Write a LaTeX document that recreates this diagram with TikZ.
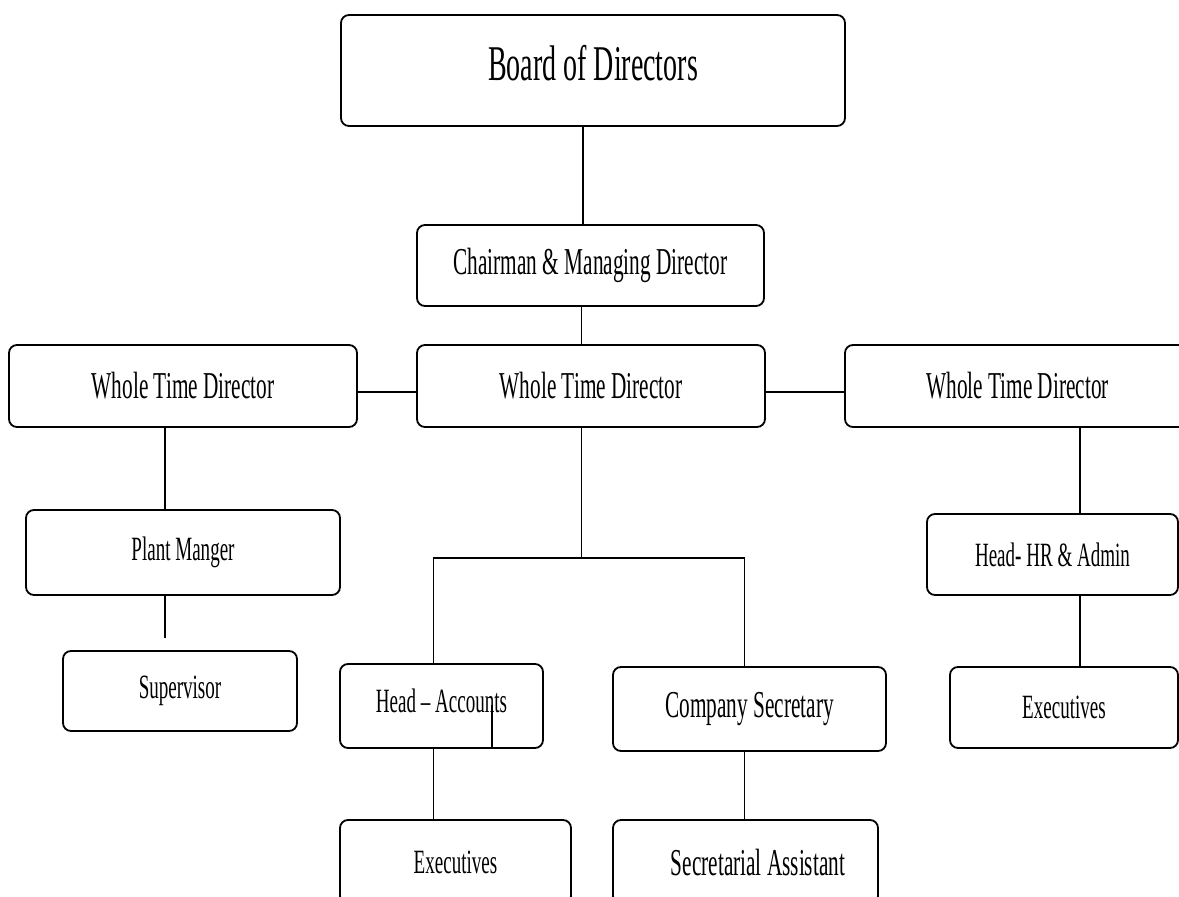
\documentclass[tikz,border=0pt]{standalone}
\usepackage{fontspec}
\setmainfont[FakeStretch=0.56]{Liberation Serif}
\begin{document}
\begin{tikzpicture}[x=1pt,y=-1pt,
  box/.style={draw=black, line width=1.8pt, rounded corners=8pt, inner sep=0pt, anchor=center},
  big/.style={font=\fontsize{50}{60}\selectfont},
  mid/.style={font=\fontsize{38}{44}\selectfont},
  small/.style={font=\fontsize{34}{40}\selectfont},
  conn/.style={draw=black, line width=1.4pt}]
\useasboundingbox (0,0) rectangle (1179,897);
\clip (0,0) rectangle (1179,897);
% boxes
\node[box,big,minimum width=504pt,minimum height=111pt,text depth=15pt] (board) at (593,70.5) {Board of Directors};
\node[box,mid,minimum width=347pt,minimum height=81pt] (chair) at (590.5,265.5) {Chairman \& Managing Director};
\node[box,mid,minimum width=348pt,minimum height=82pt] (lwtd) at (183,386) {Whole Time Director};
\node[box,mid,minimum width=348pt,minimum height=82pt] (cwtd) at (591,386) {Whole Time Director};
\node[box,mid,minimum width=345pt,minimum height=82pt] (rwtd) at (1017.5,386) {Whole Time Director};
\node[box,small,minimum width=314pt,minimum height=85pt] (plant) at (183,552.5) {Plant Manger};
\node[box,small,minimum width=234pt,minimum height=80pt] (sup) at (180,691) {Supervisor};
\node[box,small,minimum width=203pt,minimum height=84pt,text depth=10pt] (ha) at (441.5,706) {Head -- Accounts};
\node[box,mid,minimum width=273pt,minimum height=84pt] (cs) at (749.5,709) {Company Secretary};
\node[box,small,minimum width=231pt,minimum height=84pt] (ex1) at (455.5,862) {Executives};
\node[box,mid,minimum width=265pt,minimum height=84pt] (sa) at (745.5,862) {\hspace*{25pt}Secretarial Assistant};
\node[box,small,minimum width=251pt,minimum height=81pt] (hr) at (1052.5,554.5) {Head- HR \& Admin};
\node[box,small,minimum width=228pt,minimum height=81pt] (ex2) at (1064,707.5) {Executives};
% helper coordinates
\coordinate (bx) at (583,0);
\coordinate (cx) at (581.5,0);
\coordinate (hy) at (0,392);
\coordinate (lx) at (165,0);
\coordinate (lend) at (165,638);
\coordinate (sy) at (0,558);
\coordinate (hax) at (433.5,0);
\coordinate (csx) at (744.5,0);
\coordinate (rx) at (1080,0);
\coordinate (inx) at (492,705);
% connectors
\draw[conn] (board.south -| bx) -- (chair.north -| bx);
\draw[conn] (chair.south -| cx) -- (cwtd.north -| cx);
\draw[conn] (lwtd.east |- hy) -- (cwtd.west |- hy);
\draw[conn] (cwtd.east |- hy) -- (rwtd.west |- hy);
\draw[conn] (lwtd.south -| lx) -- (plant.north -| lx);
\draw[conn] (plant.south -| lx) -- (lend);
\draw[conn] (cwtd.south -| cx) -- (cx |- sy);
\draw[conn] (ha.north -| hax) -- (hax |- sy) -- (csx |- sy) -- (cs.north -| csx);
\draw[conn] (inx) -- (ha.south -| inx);
\draw[conn] (ha.south -| hax) -- (ex1.north -| hax);
\draw[conn] (cs.south -| csx) -- (sa.north -| csx);
\draw[conn] (rwtd.south -| rx) -- (hr.north -| rx);
\draw[conn] (hr.south -| rx) -- (ex2.north -| rx);
\end{tikzpicture}
\end{document}
